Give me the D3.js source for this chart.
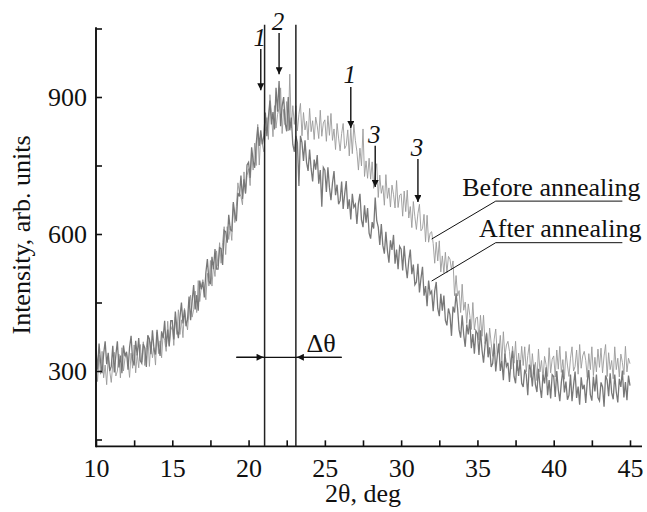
<!DOCTYPE html>
<html>
<head>
<meta charset="utf-8">
<script src="https://cdn.jsdelivr.net/npm/d3@7"></script>
<style>
  body { margin: 0; background: #fff; }
  svg text { font-family: "Liberation Serif", "Times New Roman", serif; fill: #111; }
</style>
</head>
<body>
<svg id="chart"></svg>
<script>
// scan start 10 deg, 0.1 deg step
var startAngle = 10
var angleStep = 0.1

// intensity before annealing, 10.0 ... 45.0 deg
var beforeAnnealing = [
  323,277,335,293,343,285,313,270,330,300,
  275,315,341,289,300,337,285,351,300,328,
  340,321,286,339,306,357,296,337,307,358,
  320,364,312,351,378,310,364,329,351,313,
  385,338,366,329,382,367,343,409,356,389,
  398,356,418,380,434,380,412,373,437,411,
  390,435,466,418,434,475,428,498,452,484,
  500,486,456,514,486,542,486,532,507,563,
  530,581,536,582,616,555,616,588,617,586,
  665,625,660,712,690,682,664,736,689,728,
  743,706,773,740,799,750,840,751,819,797,
  780,825,855,807,905,863,813,881,832,862,
  875,920,820,873,839,890,826,950,832,881,
  840,881,826,862,886,815,866,828,847,806,
  875,824,848,807,856,837,809,871,814,843,
  850,803,859,816,864,805,830,785,842,810,
  782,820,842,787,794,828,771,832,776,840,
  805,781,740,788,749,830,726,760,722,766,
  720,758,700,733,754,680,729,689,706,663,
  730,678,701,659,707,687,657,717,658,685,
  688,639,694,649,696,635,660,614,671,638,
  610,645,665,607,612,643,583,641,582,602,
  605,579,536,582,541,585,517,552,515,560,
  515,551,545,522,541,465,509,464,476,428,
  490,433,451,404,447,422,391,450,390,416,
  418,368,422,376,422,360,384,338,394,361,
  332,370,392,337,344,378,323,386,332,357,
  365,343,304,354,317,365,300,339,305,354,
  312,353,298,334,358,286,338,300,319,279,
  348,298,323,282,332,314,288,351,296,326,
  333,287,346,304,354,297,325,282,343,313,
  288,328,353,300,310,346,293,358,306,333,
  343,323,286,338,303,353,290,330,298,348,
  308,350,296,333,358,288,340,303,323,283,
  353,303,328,287,337,319,292,354,298,328,
  316
]

// intensity after annealing, 10.0 ... 45.0 deg
var afterAnnealing = [
  347,303,360,320,295,337,365,315,340,300,
  310,355,297,334,365,308,334,295,356,332,
  342,303,352,377,324,312,366,334,372,323,
  317,359,350,309,378,370,337,389,348,336,
  390,354,333,387,372,410,353,391,354,410,
  410,369,430,393,372,417,450,404,434,398,
  413,463,411,452,488,435,466,432,498,479,
  495,461,515,545,497,490,550,523,567,523,
  523,570,568,532,608,605,581,642,610,607,
  670,642,628,690,682,728,677,720,689,751,
  757,723,790,760,745,797,834,793,827,796,
  815,866,814,856,892,840,867,829,920,868,
  935,836,880,900,842,825,900,827,855,796,
  780,815,800,705,815,800,760,805,757,738,
  785,743,715,763,741,773,710,740,660,746,
  740,692,746,702,674,712,738,685,708,665,
  673,715,655,688,716,655,676,632,688,659,
  665,622,667,688,631,615,663,625,657,602,
  590,626,612,680,629,615,576,622,575,557,
  605,564,537,586,565,598,535,566,523,573,
  567,520,574,531,503,542,566,512,533,489,
  495,535,472,503,528,465,486,442,498,469,
  475,431,475,495,437,420,469,432,465,411,
  400,437,423,377,441,428,470,437,390,373,
  422,380,353,402,380,413,350,381,338,388,
  382,335,389,346,318,357,382,330,352,309,
  317,360,299,333,360,300,323,280,338,310,
  318,276,322,344,288,273,324,289,324,273,
  265,303,292,247,314,302,266,314,270,254,
  305,266,241,292,273,308,247,280,240,292,
  288,243,300,259,234,275,303,253,277,237,
  247,292,234,269,299,241,266,226,286,260,
  270,230,278,302,248,235,288,255,292,242,
  235,275,265,222,290,280,245,295,252,238,
  292,254,231,283,265,301,242,276,236,290,
  268
]

var xTicks = [10, 12.5, 15, 17.5, 20, 22.5, 25, 27.5, 30, 32.5, 35, 37.5, 40, 42.5, 45]
var yTicks = [150, 300, 450, 600, 750, 900, 1050]

// peak markers: label, angle, label height, arrow start, arrow tip (intensity units)
var markLabels = ["1", "2", "1", "3", "3"]
var markAngles = [20.8, 22.0, 26.7, 28.3, 31.1]
var markText = [1012, 1047, 931, 799, 771]
var markFrom = [1005, 1040, 922, 793, 764]
var markTo = [915, 950, 832, 703, 670]

// vertical lines bounding delta theta
var deltaLines = [21.05, 23.1]

var dimensions = {
  width: 647,
  height: 512
}

var svg = d3.select("#chart")
            .attr("width", dimensions.width)
            .attr("height", dimensions.height)

var xScale = d3.scaleLinear()
               .domain([10, 45])
               .range([96, 630])

var yScale = d3.scaleLinear()
               .domain([300, 900])
               .range([371, 97])

var yBottom = 135
var yTop = 1058

var defs = svg.append("defs")
defs.append("marker")
    .attr("id", "head")
    .attr("viewBox", "0 0 10 10")
    .attr("refX", 10).attr("refY", 5)
    .attr("markerWidth", 9).attr("markerHeight", 7)
    .attr("markerUnits", "userSpaceOnUse")
    .attr("orient", "auto")
  .append("path")
    .attr("d", "M0,0 L10,5 L0,10 Z")
    .attr("fill", "#111")

var twoTheta = beforeAnnealing.map((d, i) => startAngle + i * angleStep)

var line = d3.line()
             .x((d, i) => xScale(twoTheta[i]))
             .y(d => yScale(d))

svg.append("path")
   .attr("d", line(beforeAnnealing))
   .attr("fill", "none")
   .attr("stroke", "#9a9a9a")
   .attr("stroke-width", 0.9)

svg.append("path")
   .attr("d", line(afterAnnealing))
   .attr("fill", "none")
   .attr("stroke", "#787878")
   .attr("stroke-width", 1.3)

// axes
var xAxisgen = d3.axisBottom(xScale)
                 .tickValues(xTicks)
                 .tickSize(-6)
                 .tickFormat(d => d % 5 === 0 ? d : "")

var yAxisgen = d3.axisLeft(yScale)
                 .tickValues(yTicks)
                 .tickSize(-6)
                 .tickFormat(d => d % 300 === 0 ? d : "")

var xAxis = svg.append("g")
               .attr("transform", `translate(0,${yScale(yBottom)})`)
               .call(xAxisgen)
xAxis.select(".domain").remove()
xAxis.selectAll("line").attr("stroke", "#111").attr("stroke-width", 1.6)
xAxis.selectAll("text")
     .attr("y", 31).attr("dy", 0)
     .style("font-size", "26px")
     .style("font-family", "Liberation Serif")

var yAxis = svg.append("g")
               .attr("transform", `translate(${xScale(10)},0)`)
               .call(yAxisgen)
yAxis.select(".domain").remove()
yAxis.selectAll("line").attr("stroke", "#111").attr("stroke-width", 1.6)
yAxis.selectAll("text")
     .attr("x", -9).attr("dy", "0.34em")
     .style("font-size", "26px")
     .style("font-family", "Liberation Serif")

svg.append("line")
   .attr("x1", xScale(10)).attr("x2", 642)
   .attr("y1", yScale(yBottom)).attr("y2", yScale(yBottom))
   .attr("stroke", "#111").attr("stroke-width", 1.9)

svg.append("line")
   .attr("x1", xScale(10)).attr("x2", xScale(10))
   .attr("y1", yScale(yBottom) + 1).attr("y2", yScale(1053))
   .attr("stroke", "#111").attr("stroke-width", 1.9)

// axis titles
svg.append("text")
   .attr("x", 363).attr("y", 502)
   .attr("text-anchor", "middle")
   .style("font-size", "26px")
   .text("2θ, deg")

svg.append("text")
   .attr("transform", "translate(30,235) rotate(-90)")
   .attr("text-anchor", "middle")
   .style("font-size", "26px")
   .text("Intensity, arb. units")

// delta theta lines
svg.selectAll(".dline")
   .data(deltaLines)
   .enter()
   .append("line")
   .attr("x1", d => xScale(d)).attr("x2", d => xScale(d))
   .attr("y1", yScale(yTop)).attr("y2", yScale(yBottom))
   .attr("stroke", "#222").attr("stroke-width", 1.5)

var dY = yScale(330)
svg.append("line")
   .attr("x1", xScale(19.2)).attr("x2", xScale(26.1))
   .attr("y1", dY).attr("y2", dY)
   .attr("stroke", "#111").attr("stroke-width", 1.3)
svg.append("line")
   .attr("x1", xScale(19.2)).attr("x2", xScale(deltaLines[0]) - 1)
   .attr("y1", dY).attr("y2", dY)
   .attr("stroke", "#111").attr("stroke-width", 1.3)
   .attr("marker-end", "url(#head)")
svg.append("line")
   .attr("x1", xScale(26.1)).attr("x2", xScale(deltaLines[1]) + 1)
   .attr("y1", dY).attr("y2", dY)
   .attr("stroke", "#111").attr("stroke-width", 1.3)
   .attr("marker-end", "url(#head)")
svg.append("text")
   .attr("x", xScale(23.8)).attr("y", yScale(341))
   .style("font-size", "26px")
   .text("Δθ")

// peak arrows
markLabels.forEach(function(lab, i) {
  svg.append("line")
     .attr("x1", xScale(markAngles[i])).attr("x2", xScale(markAngles[i]))
     .attr("y1", yScale(markFrom[i])).attr("y2", yScale(markTo[i]))
     .attr("stroke", "#111").attr("stroke-width", 1.4)
     .attr("marker-end", "url(#head)")
  svg.append("text")
     .attr("x", xScale(markAngles[i]) - 1).attr("y", yScale(markText[i]))
     .attr("text-anchor", "middle")
     .style("font-size", "25px")
     .style("font-style", "italic")
     .text(lab)
})

// curve callouts
var calloutNames = ["Before annealing", "After annealing"]
var calloutTextX = [34.0, 35.1]
var calloutTextY = [683, 593]
var calloutLineY = [672, 581]
var calloutTipX = [32.0, 32.0]
var calloutTipY = [589, 497]

calloutNames.forEach(function(name, i) {
  svg.append("text")
     .attr("x", xScale(calloutTextX[i])).attr("y", yScale(calloutTextY[i]))
     .style("font-size", "26px")
     .text(name)
  svg.append("polyline")
     .attr("points", [
        [xScale(calloutTipX[i]), yScale(calloutTipY[i])],
        [xScale(36.2), yScale(calloutLineY[i])],
        [xScale(44.5), yScale(calloutLineY[i])]
      ].join(" "))
     .attr("fill", "none")
     .attr("stroke", "#111").attr("stroke-width", 1)
})
</script>
</body>
</html>
